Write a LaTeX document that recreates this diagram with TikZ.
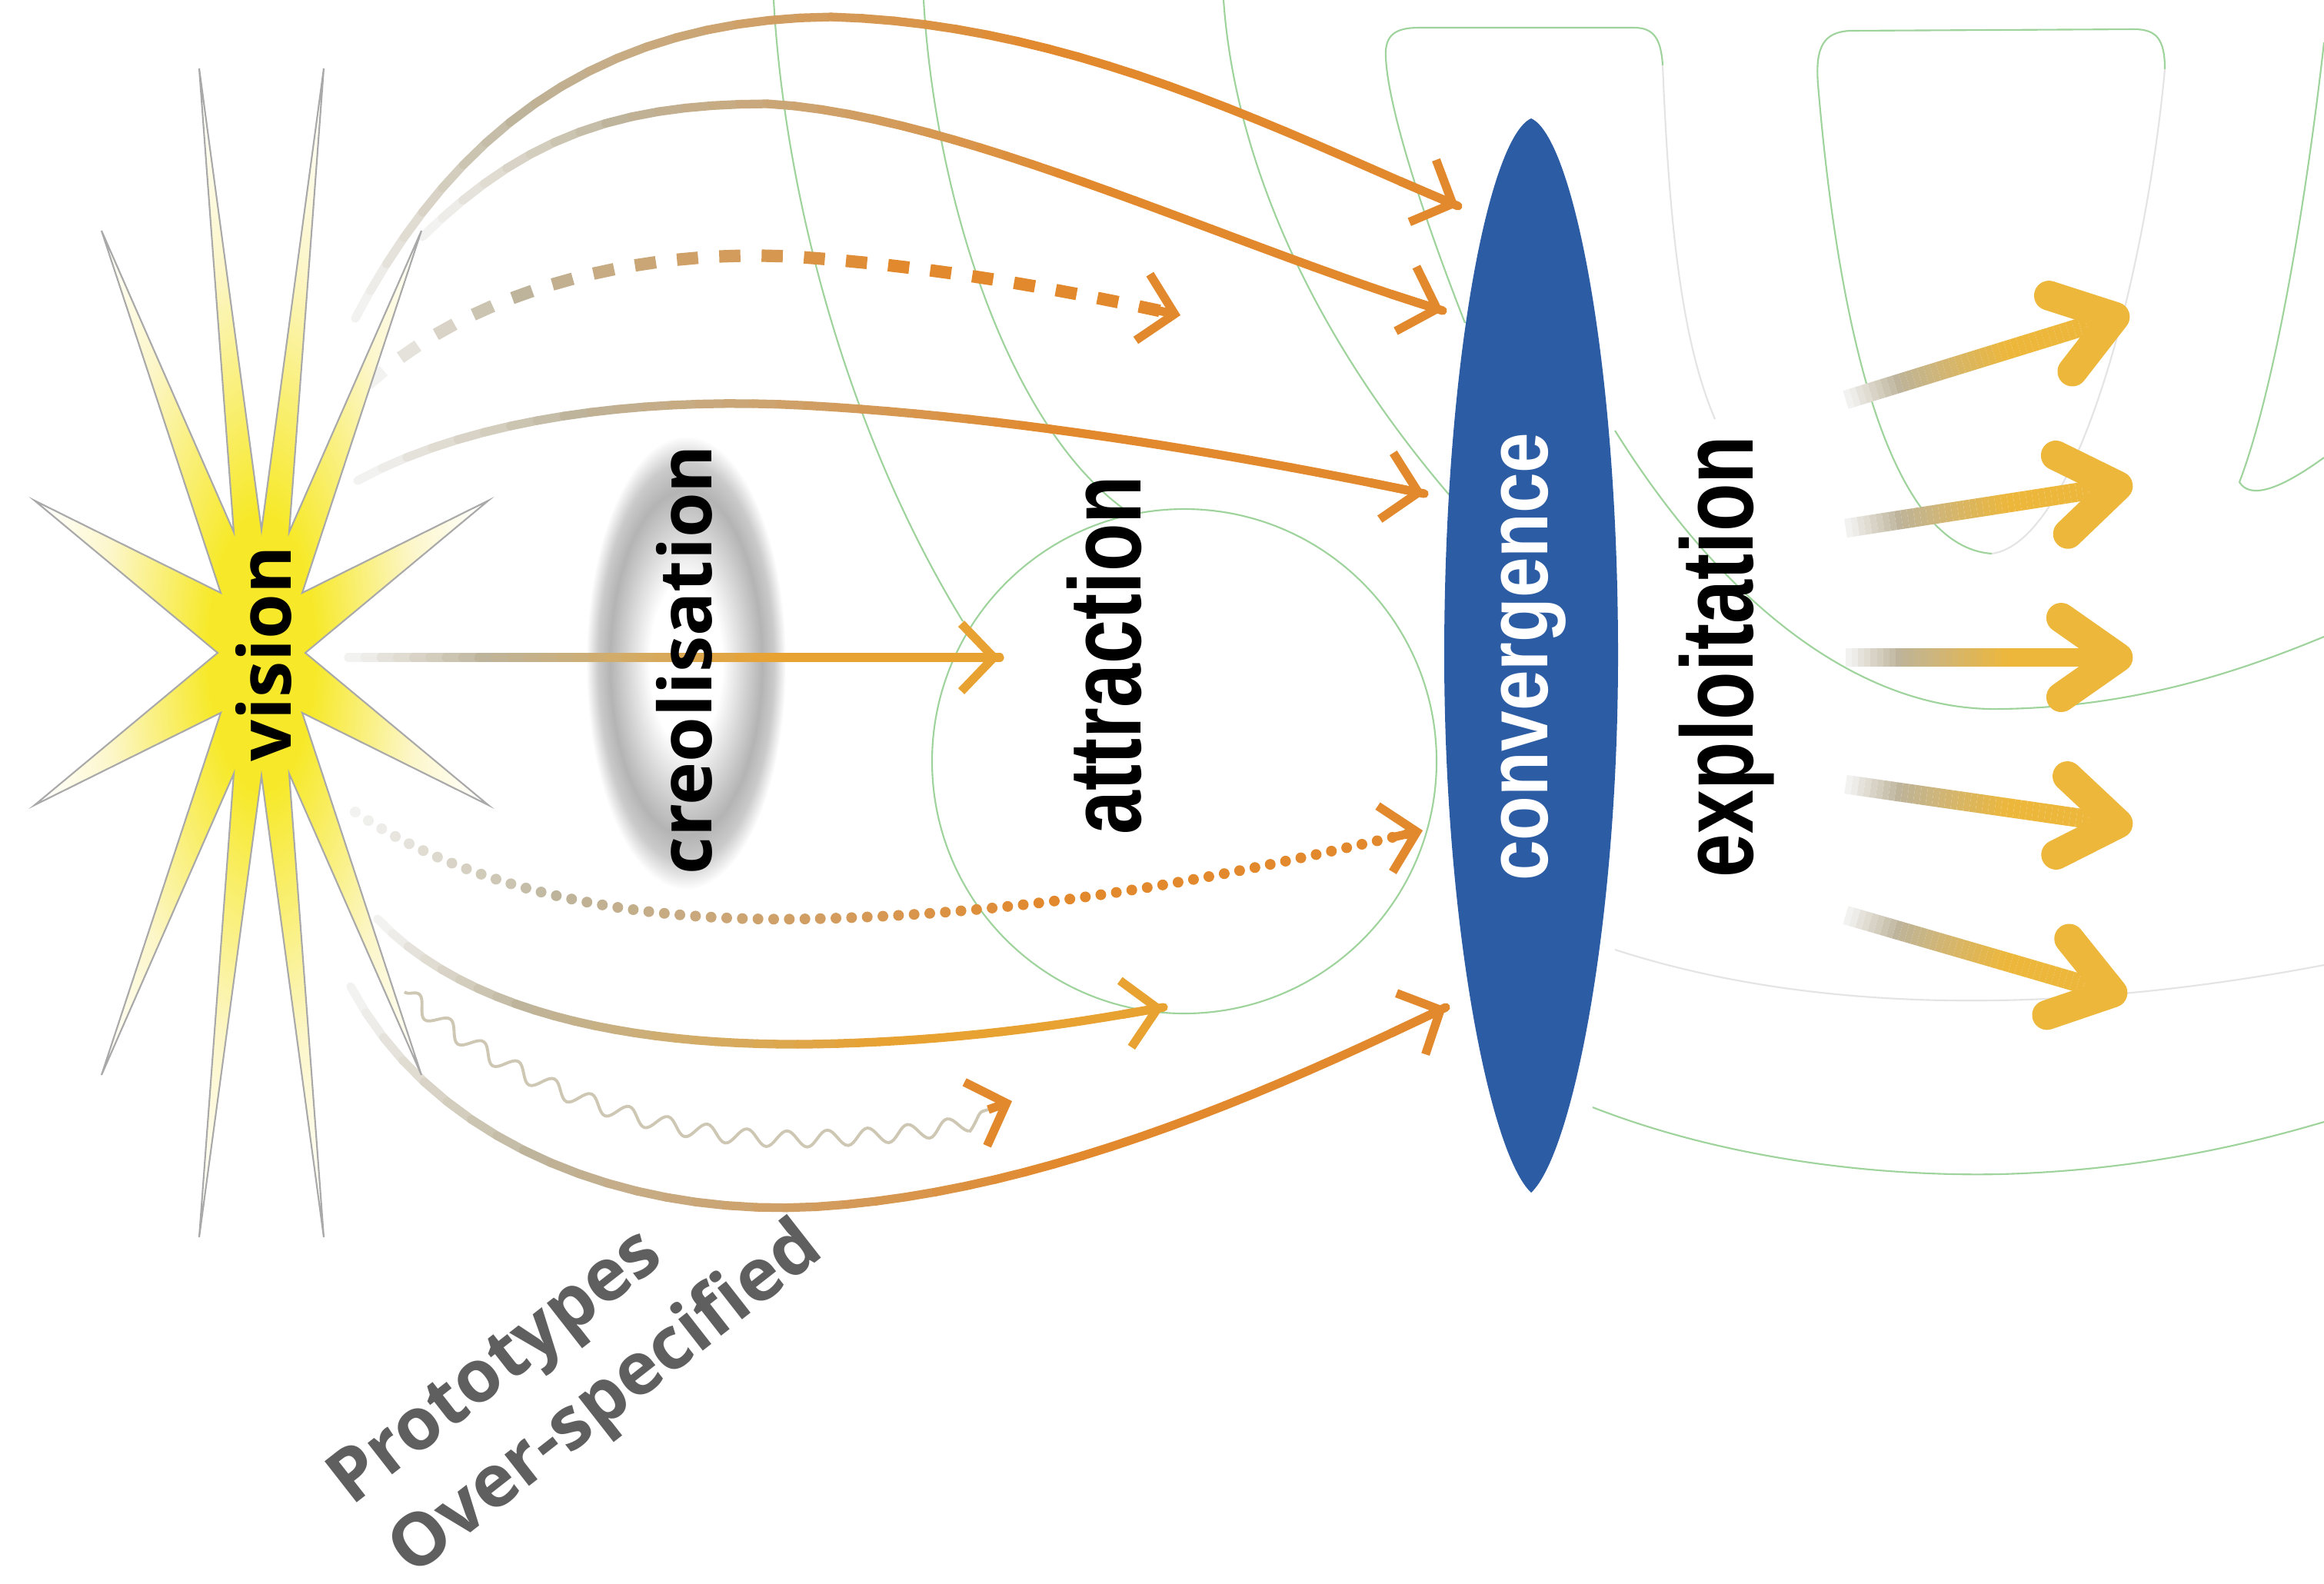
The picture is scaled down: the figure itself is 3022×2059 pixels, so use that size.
\documentclass[tikz,border=0pt]{standalone}
\usepackage{fontspec}
\setmainfont{Open Sans}
\newfontfamily\arialfont{Liberation Sans}
\usepackage{graphicx}
\usetikzlibrary{arrows.meta,calc,decorations.markings,decorations.pathmorphing}

\definecolor{starcore}{HTML}{F7E92A}
\definecolor{starpale}{HTML}{FCF6C8}
\definecolor{spikeline}{HTML}{A9A9A9}
\definecolor{convblue}{HTML}{2B5CA4}
\definecolor{creogray}{HTML}{B4B4B4}
\definecolor{trailorange}{HTML}{E2892D}
\definecolor{trailgold}{HTML}{E8A232}
\definecolor{exgold}{HTML}{EDB73B}
\definecolor{fieldgreen}{HTML}{9ED39B}
\definecolor{fieldgray}{HTML}{E4E4E4}
\definecolor{protogray}{HTML}{5F5F5F}
\definecolor{fadeA}{HTML}{F2F2F0}
\definecolor{fadeB}{HTML}{BEB49B}
\colorlet{fadeC}{trailorange}

\pgfdeclareradialshading{starshade}{\pgfpointorigin}{color(0bp)=(starcore); color(6bp)=(starcore); color(17bp)=(starpale); color(25bp)=(white); color(50bp)=(white)}
\pgfdeclareradialshading{creoshade}{\pgfpointorigin}{color(0bp)=(white); color(9bp)=(white); color(19bp)=(creogray); color(22bp)=(creogray!70!white); color(25bp)=(white); color(50bp)=(white)}

% colour along a trail: pale grey -> beige -> fadeC
\newcommand\trailcolor[1]{%
  \ifnum#1<20 \pgfmathtruncatemacro\pc{#1*5}\colorlet{tc}{fadeB!\pc!fadeA}%
  \else\ifnum#1<65 \pgfmathtruncatemacro\pc{(#1-20)*100/45}\colorlet{tc}{fadeC!\pc!fadeB}%
  \else\colorlet{tc}{fadeC}\fi\fi}

% points along a path: name-1 ... name-N, name-(N+1) = end
\newcommand\tracepath[4]{%
  \pgfmathtruncatemacro\lastidx{round(1/#2)+1}%
  \path[decorate, decoration={markings, mark=between positions 0 and 0.999 step #2 with
    {\coordinate (#1-\pgfkeysvalueof{/pgf/decoration/mark info/sequence number});}}] #3;
  \coordinate (#1-\lastidx) at #4;}

\newcommand\solidtrail[4][round]{%
  \foreach \k [evaluate=\k as \n using int(\k+1), evaluate=\k as \tp using int(100*(\k-1)/(#3-1))] in {1,...,#3}{%
    \trailcolor{\tp}\draw[tc, line width=#4, line cap=#1] (#2-\k) -- (#2-\n);}}

\newcommand\dashtrail[3]{%
  \foreach \k [evaluate=\k as \n using int(\k+1), evaluate=\k as \tp using int(100*(\k-1)/(#2-1))] in {1,3,...,#2}{%
    \trailcolor{\tp}\draw[tc, line width=#3] (#1-\k) -- (#1-\n);}}

\newcommand\dottrail[3]{%
  \foreach \k [evaluate=\k as \tp using int(100*(\k-1)/(#2-1))] in {1,...,#2}{%
    \trailcolor{\tp}\fill[tc] (#1-\k) circle (#3);}}

\tikzset{
  fieldline/.style={fieldgreen, line width=0.6pt},
  faintline/.style={fieldgray, line width=0.6pt},
  trailtip/.style={fadeC, line width=3.2pt, -{Straight Barb[length=12pt,width=25pt]}},
  exhead/.style={exgold, line width=11pt, line cap=round, line join=round},
  rotlabel/.style={rotate=90, font=\bfseries\fontsize{27}{30}\selectfont},
  bigword/.style={rotate=90, font=\arialfont\bfseries\fontsize{37.8}{40}\selectfont},
  protolabel/.style={rotate=38, protogray, font=\bfseries\fontsize{27}{30}\selectfont},
}

\begin{document}
\begin{tikzpicture}[x=0.01cm, y=-0.01cm]
\fill[white] (0,0) rectangle (3022,2059);
\useasboundingbox (0,0) rectangle (3022,2059);

% background field lines
\draw[fieldline] (1006,0) .. controls (1020,250) and (1100,560) .. (1252,808);
\draw[fieldline] (1201,0) .. controls (1215,250) and (1310,560) .. (1470,668);
\draw[fieldline] (1540,990) circle (328);
\draw[fieldline] (1591,0) .. controls (1605,200) and (1700,430) .. (1890,650);
\draw[fieldline] (1905,420) .. controls (1850,280) and (1805,140) .. (1802,75) .. controls (1800,45) and (1815,36) .. (1845,36) -- (2125,36) .. controls (2150,36) and (2160,50) .. (2162,85);
\draw[faintline] (2162,85) .. controls (2170,280) and (2185,440) .. (2230,545);
\draw[fieldline] (2100,560) .. controls (2250,800) and (2430,925) .. (2600,922) .. controls (2780,920) and (2920,870) .. (3022,828);
\draw[fieldline] (2590,720) .. controls (2470,712) and (2395,480) .. (2364,110) .. controls (2360,60) and (2372,42) .. (2405,40) -- (2775,38) .. controls (2805,38) and (2815,52) .. (2815,90);
\draw[faintline] (2815,90) .. controls (2790,360) and (2700,705) .. (2590,720);
\draw[fieldline] (3022,55) .. controls (3000,250) and (2960,500) .. (2912,627) .. controls (2925,648) and (2960,640) .. (3022,595);
\draw[faintline] (2100,1235) .. controls (2300,1300) and (2600,1335) .. (3022,1255);
\draw[fieldline] (2071,1440) .. controls (2250,1510) and (2450,1530) .. (2600,1527) .. controls (2800,1522) and (2950,1480) .. (3022,1459);

% convergence lens and creolisation halo
\fill[convblue] (1991,154) .. controls (2045,178) and (2104,470) .. (2104,852) .. controls (2104,1200) and (2045,1500) .. (1991,1551) .. controls (1937,1500) and (1878,1200) .. (1878,852) .. controls (1878,470) and (1937,178) .. cycle;
\shade[shading=creoshade] (892,862) ellipse (130 and 295);

% trail ends
\coordinate (a1s) at (462,414);  \coordinate (a1t) at (1896,268);
\coordinate (a2s) at (549,308);  \coordinate (a2t) at (1876,404);
\coordinate (a3s) at (478,500);  \coordinate (a3t) at (1535,410);
\coordinate (a4s) at (465,625);  \coordinate (a4t) at (1852,642);
\coordinate (a5s) at (453,855);  \coordinate (a5t) at (1300,855);
\coordinate (a6s) at (462,1056); \coordinate (a6t) at (1850,1080);
\coordinate (a7s) at (491,1195); \coordinate (a7t) at (1513,1310);
\coordinate (a8s) at (526,1290); \coordinate (a8p) at (1285,1443); \coordinate (a8t) at (1316,1432);
\coordinate (a9s) at (456,1283); \coordinate (a9t) at (1880,1310);

% trails from the vision
\colorlet{fadeC}{trailorange}
\tracepath{A1}{0.025}{(a1s) .. controls (600,150) and (800,25) .. (1080,22) .. controls (1400,30) and (1680,178) .. (a1t)}{(a1t)}
\solidtrail{A1}{40}{3.2pt}
\draw[trailtip] (A1-39) -- (A1-41);

\tracepath{A2}{0.025}{(a2s) .. controls (680,180) and (800,135) .. (1000,135) .. controls (1250,150) and (1600,320) .. (a2t)}{(a2t)}
\solidtrail{A2}{40}{3.2pt}
\draw[trailtip] (A2-39) -- (A2-41);

\tracepath{A3}{0.025}{(a3s) .. controls (620,370) and (850,320) .. (1050,335) .. controls (1250,350) and (1420,385) .. (a3t)}{(a3t)}
\dashtrail{A3}{40}{4.6pt}
\draw[trailtip] (A3-39) -- (A3-41);

\tracepath{A4}{0.025}{(a4s) .. controls (620,540) and (850,515) .. (1060,528) .. controls (1350,545) and (1650,600) .. (a4t)}{(a4t)}
\solidtrail{A4}{40}{3.2pt}
\draw[trailtip] (A4-39) -- (A4-41);

\tracepath{A6}{0.0142857}{(a6s) .. controls (600,1150) and (800,1200) .. (1050,1195) .. controls (1400,1188) and (1650,1125) .. (a6t)}{(a6t)}
\dottrail{A6}{70}{7}
\draw[trailtip] (A6-69) -- (A6-71);

\tracepath{A9}{0.025}{(a9s) .. controls (560,1480) and (800,1580) .. (1050,1570) .. controls (1350,1555) and (1650,1420) .. (a9t)}{(a9t)}
\solidtrail{A9}{40}{3.2pt}
\draw[trailtip] (A9-39) -- (A9-41);

\draw[fadeB!75!white, line width=1.1pt, decorate, decoration={snake, amplitude=3pt, segment length=15pt}] (a8s) .. controls (650,1400) and (850,1480) .. (1050,1472) .. controls (1180,1468) and (1240,1455) .. (a8p);
\draw[trailtip] (a8p) -- (a8t);

\colorlet{fadeC}{trailgold}
\tracepath{A7}{0.025}{(a7s) .. controls (600,1310) and (800,1360) .. (1050,1358) .. controls (1250,1355) and (1400,1330) .. (a7t)}{(a7t)}
\solidtrail{A7}{40}{3.2pt}
\draw[trailtip] (A7-39) -- (A7-41);

\tracepath{A5}{0.025}{(a5s) -- (a5t)}{(a5t)}
\solidtrail{A5}{40}{3.2pt}
\draw[trailtip] (A5-39) -- (A5-41);

% the vision star
\shadedraw[shading=starshade, draw=spikeline, line width=0.6pt] (397,849) -- (635,651) -- (393,771) -- (548,300) -- (376,692) -- (421,89) -- (340,689) -- (259,89) -- (304,692) -- (132,300) -- (287,771) -- (45,651) -- (283,849) -- (45,1047) -- (287,927) -- (132,1398) -- (304,1006) -- (259,1609) -- (340,1009) -- (421,1609) -- (376,1006) -- (548,1398) -- (393,927) -- (635,1047) -- cycle;

% labels
\node[rotlabel] (vision) at (343,850) {vision};
\node[rotlabel] (creo) at (890,858) {creolisation};
\node[bigword] (attr) at (1436,852) {\scalebox{0.77}[1]{attraction}};
\node[rotate=90, white, font=\arialfont\bfseries\fontsize{32}{34}\selectfont] (conv) at (1994,854) {\scalebox{0.84}[1]{convergence}};
\node[bigword] (expl) at (2245,854) {\scalebox{0.77}[1]{exploitation}};
\node[protolabel] (proto) at (648,1782) {Prototypes};
\node[protolabel] (over) at (790,1822) {Over-specified};

% exploitation arrows
\coordinate (es1) at (2400,520);  \coordinate (et1) at (2750,412);
\coordinate (es2) at (2400,687);  \coordinate (et2) at (2754,632);
\coordinate (es3) at (2400,855);  \coordinate (et3) at (2754,855);
\coordinate (es4) at (2400,1020); \coordinate (et4) at (2754,1071);
\coordinate (es5) at (2400,1190); \coordinate (et5) at (2747,1291);
\colorlet{fadeC}{exgold}
\foreach \i in {1,...,5}{
  \tracepath{E\i}{0.025}{(es\i) -- ($(et\i)!0.3cm!(es\i)$)}{($(et\i)!0.3cm!(es\i)$)}
  \solidtrail[butt]{E\i}{40}{7pt}
  \draw[exhead] ($(et\i)!0.9cm!35:(es\i)$) -- (et\i) -- ($(et\i)!0.9cm!-35:(es\i)$);
}
\end{tikzpicture}
\end{document}
